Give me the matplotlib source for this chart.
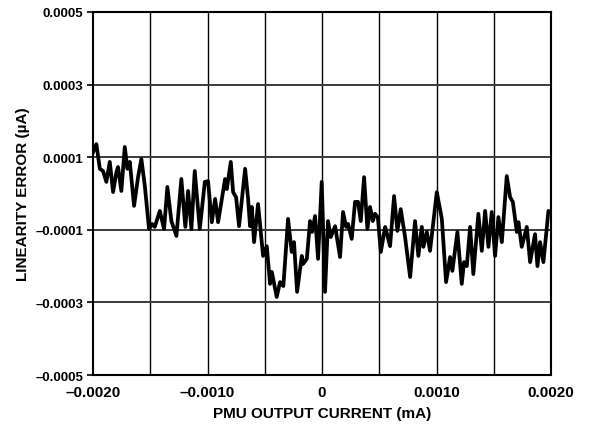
import numpy as np
import matplotlib.pyplot as plt

# x in units of 1e-3 mA, y in units of 1e-4 uA
x_k = [-2.000, -1.971, -1.941, -1.913, -1.884, -1.854, -1.825, -1.796, -1.782, -1.753,
       -1.723, -1.700, -1.679, -1.642, -1.607, -1.578, -1.548, -1.511, -1.485, -1.461,
       -1.417, -1.380, -1.351, -1.316, -1.272, -1.229, -1.194, -1.170, -1.141, -1.112,
       -1.068, -1.024, -0.996, -0.963, -0.934, -0.908, -0.847, -0.832, -0.797, -0.777,
       -0.751, -0.725, -0.672, -0.646, -0.629, -0.614, -0.594, -0.559, -0.515, -0.483,
       -0.454, -0.439, -0.396, -0.367, -0.338, -0.297, -0.265, -0.245, -0.218, -0.177,
       -0.166, -0.133, -0.105, -0.087, -0.061, -0.035, -0.003, 0.026, 0.052, 0.076,
       0.114, 0.157, 0.183, 0.210, 0.227, 0.259, 0.288, 0.314, 0.338, 0.367,
       0.396, 0.419, 0.443, 0.463, 0.487, 0.513, 0.551, 0.594, 0.629, 0.658,
       0.687, 0.725, 0.769, 0.812, 0.841, 0.871, 0.885, 0.915, 0.943, 1.002,
       1.046, 1.083, 1.118, 1.138, 1.182, 1.220, 1.240, 1.264, 1.293, 1.321,
       1.365, 1.395, 1.424, 1.453, 1.482, 1.511, 1.540, 1.570, 1.613, 1.642,
       1.666, 1.701, 1.715, 1.744, 1.788, 1.817, 1.860, 1.881, 1.904, 1.933,
       1.977, 2.000]
y_k = [1.14, 1.36, 0.68, 0.62, 0.32, 0.87, 0.04, 0.59, 0.73, 0.07,
       1.28, 0.68, 0.87, -0.34, 0.45, 0.95, 0.21, -0.98, -0.84, -0.92,
       -0.48, -0.98, 0.18, -0.76, -1.17, 0.40, -0.92, 0.07, -0.98, 0.62,
       -0.98, 0.32, 0.34, -0.79, -0.15, -0.79, 0.40, 0.12, 0.87, 0.04,
       -0.10, -0.90, 0.68, -0.15, -0.90, -0.37, -1.34, -0.29, -1.72, -1.45,
       -2.49, -2.16, -2.85, -2.44, -2.55, -0.70, -1.61, -1.34, -2.71, -1.72,
       -1.94, -1.80, -0.76, -1.06, -0.62, -1.80, 0.32, -2.71, -0.76, -1.20,
       -0.90, -1.75, -0.51, -0.92, -0.84, -1.25, -0.23, -0.23, -0.76, 0.45,
       -0.98, -0.37, -0.76, -0.56, -0.65, -1.61, -0.92, -1.45, -0.07, -1.03,
       -0.43, -1.20, -2.30, -0.76, -1.72, -0.92, -1.47, -1.06, -1.58, 0.04,
       -0.70, -2.44, -1.75, -2.13, -1.06, -2.49, -1.89, -2.00, -0.92, -2.22,
       -0.56, -1.58, -0.48, -1.47, -0.51, -1.72, -0.65, -1.34, 0.48, -0.10,
       -0.23, -1.06, -0.79, -1.47, -0.92, -1.89, -1.12, -2.00, -1.34, -1.89,
       -0.48, -0.51]

x_ticks = [-0.002, -0.001, 0, 0.001, 0.002]
x_labels = ['\u20130.0020', '\u20130.0010', '0', '0.0010', '0.0020']
x_grid = [-0.0015, -0.001, -0.0005, 0, 0.0005, 0.001, 0.0015]
y_ticks = [-0.0005, -0.0003, -0.0001, 0.0001, 0.0003, 0.0005]
y_labels = ['\u20130.0005', '\u20130.0003', '\u20130.0001', '0.0001', '0.0003', '0.0005']

x = np.array(x_k) * 1e-3
y = np.array(y_k) * 1e-4

plt.rcParams['font.family'] = ['Liberation Sans', 'DejaVu Sans']
plt.rcParams['font.weight'] = 'bold'

fig = plt.figure(figsize=(5.89, 4.27), dpi=100, facecolor='white')
ax = fig.add_axes([0.158, 0.1194, 0.7776, 0.8502])

for gx in x_grid:
    ax.axvline(gx, color='black', lw=1.0, zorder=1)
for gy in y_ticks[1:-1]:
    ax.axhline(gy, color='#3a3a3a', lw=1.4, zorder=1)

ax.plot(x, y, color='black', lw=2.7, solid_joinstyle='round', zorder=3)

ax.set_xlim(-0.002, 0.002)
ax.set_ylim(-0.0005, 0.0005)
ax.set_xticks(x_ticks)
ax.set_xticklabels(x_labels)
ax.set_yticks(y_ticks)
ax.set_yticklabels(y_labels)
ax.tick_params(axis='x', length=0, pad=7, labelsize=11)
ax.tick_params(axis='y', length=4, width=1.2, direction='out', pad=3, labelsize=9.5)
for t in ax.get_xticklabels() + ax.get_yticklabels():
    t.set_fontweight('bold')

for s in ax.spines.values():
    s.set_linewidth(1.5)

ax.set_xlabel('PMU OUTPUT CURRENT (mA)', fontsize=11, fontweight='bold', labelpad=5)
ax.set_ylabel('LINEARITY ERROR (\u00b5A)', fontsize=11, fontweight='bold', labelpad=4)

fig.savefig('out.png', dpi=100, facecolor='white')
